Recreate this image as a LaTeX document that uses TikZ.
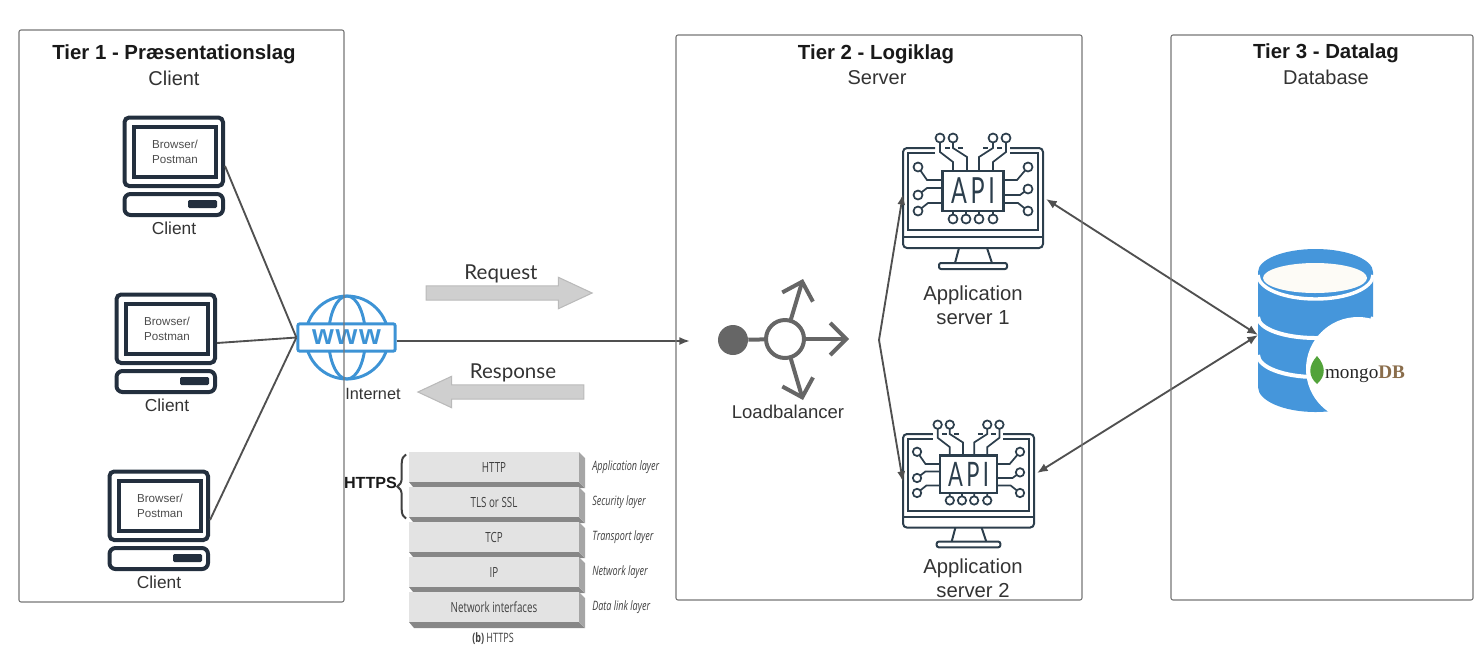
\documentclass[tikz,border=0pt]{standalone}
\usepackage{fontspec}
\setmainfont{Liberation Sans}
\newfontfamily\lightfont{Lato}
\newfontfamily\apifont[FakeStretch=0.65,LetterSpace=10]{Lato}
\newfontfamily\wwwfont[LetterSpace=6]{Liberation Sans}
\newfontfamily\stackfont[FakeStretch=0.7]{Open Sans}
\newfontfamily\mongofont{Liberation Serif}
\usetikzlibrary{arrows.meta,shapes.arrows,decorations.pathreplacing}

\definecolor{pcdark}{HTML}{232F3E}
\definecolor{apidark}{HTML}{2C3E4C}
\definecolor{wwwblue}{HTML}{3D93D5}
\definecolor{dbblue}{HTML}{4596DB}
\definecolor{dbcream}{HTML}{FDFBF6}
\definecolor{linegray}{HTML}{505050}
\definecolor{framegray}{HTML}{777777}
\definecolor{hubgray}{HTML}{666666}
\definecolor{leafgreen}{HTML}{52A33A}

\tikzset{
	x=.75pt, y=-.75pt,
	tierbox/.style={draw=framegray, line width=.8pt, rounded corners=1.5pt},
	tiertitle/.style={font=\fontsize{15.3}{18}\selectfont\bfseries, text=black!90},
	tiersub/.style={font=\fontsize{15}{18}\selectfont, text=black!80},
	caption/.style={font=\fontsize{15.2}{18}\selectfont, text=black!80, align=center},
	pclabel/.style={font=\fontsize{13}{16}\selectfont, text=black!80},
	link/.style={draw=linegray, line width=1.4pt},
	tiplink/.style={link, -{Latex[length=8pt,width=6pt]}},
	dblink/.style={link, {Latex[length=8pt,width=6.5pt]}-{Latex[length=8pt,width=6.5pt]}},
	hubarrow/.style={draw=hubgray, line width=3pt, line cap=round, -{Straight Barb[length=12pt,width=24pt]}},
	fatarrow/.style={single arrow, draw=black!27, fill=black!19, line width=.8pt, minimum height=124.5pt, inner xsep=0pt, inner ysep=4.9pt, single arrow head extend=6.5pt, single arrow tip angle=50, single arrow head indent=0pt},
	layerbox/.style={fill=black!11, minimum width=127.5pt, minimum height=22.5pt, inner sep=0pt, font=\stackfont\fontsize{10.5}{12}\selectfont, text=black!75},
	layertag/.style={anchor=west, inner sep=0pt, font=\stackfont\itshape\fontsize{9.7}{11}\selectfont, text=black!75},
	pin/.style={draw=apidark, line width=1.3pt, fill=white},
	clientpc/.pic={
		\draw[pcdark, line width=3pt, rounded corners=3.5pt] (1.5,1.5) rectangle (100,70);
		\draw[pcdark, line width=3pt] (10.5,10.5) rectangle (93,61);
		\draw[pcdark, line width=3pt, rounded corners=4.5pt] (1.5,78) rectangle (100,99);
		\fill[pcdark, rounded corners=1pt] (65,84) rectangle (94,92);
		\node[font=\fontsize{8.7}{11.5}\selectfont, text=black!70, align=center] (-screen) at (52,36) {Browser/\\Postman};
		\coordinate (-out) at (102,50);
	},
	apiscreen/.pic={
		% monitor
		\draw[apidark, line width=1.5pt, rounded corners=3pt] (32,0) -| (0,100) -| (140,0) -- (107,0);
		\draw[apidark, line width=1.5pt] (32,5) -| (5,82) -| (135,5) -- (107,5);
		\draw[apidark, line width=1.5pt] (0,89) -- (140,89);
		\draw[apidark, line width=1.5pt] (56,100) -- (52,115) (84,100) -- (89,115);
		\draw[apidark, line width=1.5pt, rounded corners=1.5pt] (36,115) rectangle (104,121);
		\draw[apidark, line width=1.2pt] (42,0) -- (47,0) (55,0) -- (60,0) (80,0) -- (85,0) (94,0) -- (99,0);
		% wires
		\draw[apidark, line width=1.3pt]
			(37,-6) -- (37,4) -- (50,14) -- (50,23)
			(50,-6) -- (50,0) -- (64,9) -- (64,23)
			(90,-6) -- (90,0) -- (76,9) -- (76,23)
			(103,-6) -- (103,4) -- (90,14) -- (90,23)
			(15,19) -- (24,32) -- (39,32)
			(15,47) -- (24,40) -- (39,40)
			(15,63) -- (25,55) -- (39,55)
			(125,19) -- (114,32) -- (100,32)
			(125,41) -- (117,47) -- (100,47)
			(125,63) -- (115,55) -- (100,55)
			(50,63) -- (50,71) (63,63) -- (63,71) (76,63) -- (76,71) (90,63) -- (90,71);
		% pins
		\foreach \px/\py in {37/-10,50/-10,90/-10,103/-10,15/19,15/47,15/63,125/19,125/41,125/63,50/71,63/71,76/71,90/71}
			\draw[pin] (\px,\py) circle[radius=4.5];
		\node[draw=apidark, line width=1.6pt, fill=white, minimum width=45.75pt, minimum height=30pt, inner sep=0pt, text=apidark, font=\apifont\fontsize{27}{27}\selectfont] (-chip) at (70,43) {API};
	}
}

\begin{document}
\begin{tikzpicture}
	\useasboundingbox (0,0) rectangle (1480,658);

	% clients
	\pic (pc1) at (123,116) {clientpc};
	\pic (pc2) at (115,293) {clientpc};
	\pic (pc3) at (108,470) {clientpc};
	\node[pclabel] (pc1label) at (174,228) {Client};
	\node[pclabel] (pc2label) at (167,405) {Client};
	\node[pclabel] (pc3label) at (159,582) {Client};

	% internet
	\draw[wwwblue, line width=2.2pt] (347,337.5) circle[radius=41.5];
	\draw[wwwblue, line width=2.2pt] (347,337.5) ellipse[x radius=18.5, y radius=41.5];
	\node[draw=wwwblue, line width=2.2pt, fill=white, rounded corners=1.5pt, minimum width=73pt, minimum height=20.5pt, inner sep=0pt, text=wwwblue, font=\wwwfont\bfseries\fontsize{21}{21}\selectfont] (www) at (346.5,337.5) {www};
	\node[font=\fontsize{12.2}{15}\selectfont, text=black!80] (internet) at (373,394) {Internet};
	\draw[link] (pc1-out) -- (www.west);
	\draw[link] (pc2-out) -- (www.west);
	\draw[link] (pc3-out) -- (www.west);

	% request and response
	\coordinate (lbin) at (690,341);
	\draw[tiplink] (www.east |- lbin) -- (lbin);
	\node[font=\lightfont\fontsize{15.4}{18}\selectfont, text=black!80] (requesttext) at (501,273.5) {Request};
	\node[fatarrow] (request) at (501.5,293) {};
	\node[font=\lightfont\fontsize{15.4}{18}\selectfont, text=black!80] (responsetext) at (513,372.5) {Response};
	\node[fatarrow, shape border rotate=180] (response) at (508.5,392) {};

	% https stack
	\foreach \lname/\ltext/\ltag/\ly in {http/HTTP/Application layer/467,tls/TLS or SSL/Security layer/502,tcp/TCP/Transport layer/537,ip/IP/Network layer/572,nic/Network interfaces/Data link layer/607} {
		\fill[black!47] (409,\ly+15) -- (579,\ly+15) -- (585,\ly+21) -- (414,\ly+21) -- cycle;
		\fill[black!35] (579,\ly-15) -- (585,\ly-9) -- (585,\ly+21) -- (579,\ly+15) -- cycle;
		\node[layerbox] (\lname) at (494,\ly) {\ltext};
		\node[layertag] (\lname tag) at (592,\ly) {\ltag};
	}
	\node[font=\stackfont\fontsize{9.7}{11}\selectfont, text=black!75] (stackcaption) at (493,639) {\textbf{(b)} HTTPS};
	\node[font=\fontsize{12.1}{15}\selectfont\bfseries, text=black!90] (https) at (370.5,483) {HTTPS};
	\draw[black!75, line width=1.5pt, decorate, decoration={brace, amplitude=6.5pt}] ([xshift=-2pt,yshift=-1pt]tls.south west) -- ([xshift=-2pt,yshift=-2pt]http.north west);

	% loadbalancer
	\node[circle, fill=hubgray, minimum size=22.5pt, inner sep=0pt] (lbdot) at (733,340) {};
	\node[circle, draw=hubgray, line width=3pt, minimum size=28.5pt, inner sep=0pt] (lbhub) at (785,339) {};
	\coordinate (lbup) at (803,279);
	\coordinate (lbright) at (849,339);
	\coordinate (lbdown) at (803,400);
	\draw[hubgray, line width=3pt] (lbdot) -- (lbhub);
	\draw[hubarrow] (lbhub) -- (lbup);
	\draw[hubarrow] (lbhub) -- (lbright);
	\draw[hubarrow] (lbhub) -- (lbdown);
	\node[caption, font=\fontsize{13.9}{17}\selectfont] (lblabel) at (788,412) {Loadbalancer};

	% servers
	\pic (api1) at (903,148) {apiscreen};
	\pic (api2) [scale=.936, transform shape] at (903,434) {apiscreen};
	\node[caption] (api1label) at (973,305) {Application\\server 1};
	\node[caption] (api2label) at (973,578) {Application\\server 2};
	\coordinate (fork) at (879,340);
	\coordinate (api1in) at (903,194);
	\coordinate (api2in) at (903,482);
	\draw[tiplink] (fork) -- (api1in);
	\draw[tiplink] (fork) -- (api2in);

	% database
	\fill[dbblue] (1258,272) -- (1258,387) arc[start angle=180, end angle=0, x radius=57.5, y radius=25] -- (1373,272) arc[start angle=0, end angle=-180, x radius=57.5, y radius=23] -- cycle;
	\draw[white, line width=2.6pt] (1258,275) arc[start angle=180, end angle=0, x radius=57.5, y radius=24];
	\draw[white, line width=3pt] (1258,317) arc[start angle=180, end angle=0, x radius=57.5, y radius=21];
	\draw[white, line width=3pt] (1258,355) arc[start angle=180, end angle=0, x radius=57.5, y radius=22];
	\fill[dbcream] (1315,278) ellipse[x radius=52, y radius=15];
	\node[circle, fill=white, minimum size=78pt, inner sep=0pt] (mongo) at (1358,369) {};
	\node[inner sep=0pt, font=\mongofont\fontsize{14.4}{17}\selectfont, text=black!85] (mongotext) at (1365,374.5) {mongo\textcolor[HTML]{8A6D4B}{\textbf{DB}}};
	\fill[leafgreen] (1317,356) .. controls (1308,366) and (1308,376) .. (1317,384) .. controls (1326,376) and (1326,366) .. (1317,356);
	\coordinate (dbin) at (1258,335);
	\coordinate (api1db) at (1046,199);
	\coordinate (api2db) at (1037,473);
	\draw[dblink] (api1db) -- (dbin);
	\draw[dblink] (api2db) -- (dbin);

	% tiers
	\node[tierbox, minimum width=243.75pt, minimum height=429pt, inner sep=0pt] (tier1) at (181.5,316) {};
	\node[tierbox, minimum width=304.5pt, minimum height=423.75pt, inner sep=0pt] (tier2) at (879,317.5) {};
	\node[tierbox, minimum width=226.5pt, minimum height=423.75pt, inner sep=0pt] (tier3) at (1322,317.5) {};
	\node[tiertitle] (tier1title) at (174,54.5) {Tier 1 - Præsentationslag};
	\node[tiersub] (tier1sub) at (174,78) {Client};
	\node[tiertitle] (tier2title) at (876,54.5) {Tier 2 - Logiklag};
	\node[tiersub] (tier2sub) at (877,78) {Server};
	\node[tiertitle] (tier3title) at (1326,53.5) {Tier 3 - Datalag};
	\node[tiersub] (tier3sub) at (1326,77) {Database};
\end{tikzpicture}
\end{document}
